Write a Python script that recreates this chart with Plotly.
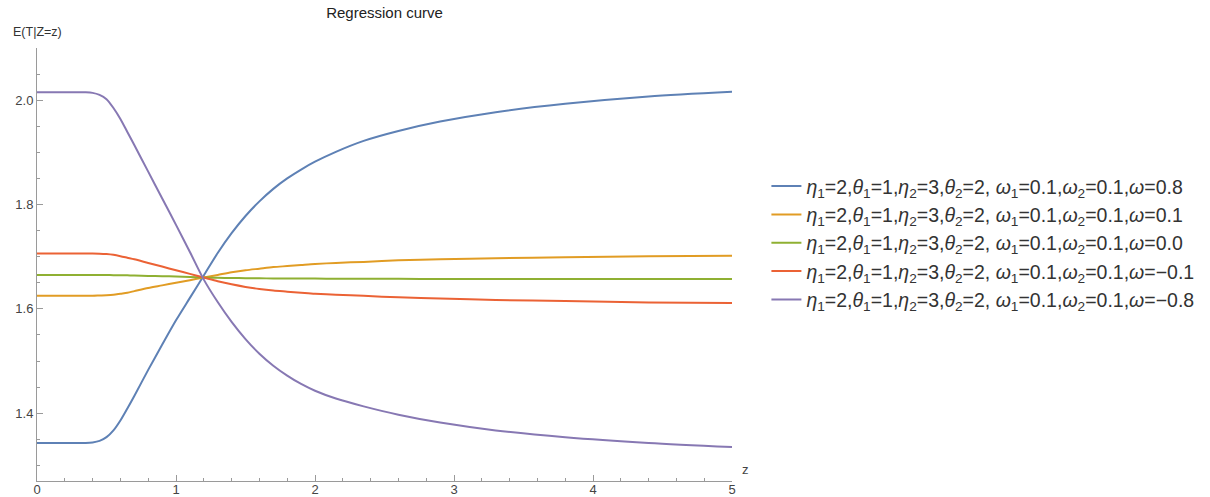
import plotly.graph_objects as go

# ---- data ----
z = [0, 0.2, 0.35, 0.4, 0.45, 0.5, 0.55, 0.6, 0.65, 0.7, 0.8, 0.9, 1.0, 1.1, 1.2,
     1.3, 1.4, 1.5, 1.6, 1.7, 1.8, 1.9, 2.0, 2.15, 2.35, 2.6, 2.9, 3.3, 3.8, 4.4, 5.0]

w_p08 = [1.343, 1.343, 1.343, 1.344, 1.347, 1.354, 1.367, 1.386, 1.409, 1.433,
         1.483, 1.531, 1.578, 1.621, 1.664, 1.707, 1.745, 1.778, 1.806, 1.830,
         1.850, 1.867, 1.882, 1.901, 1.922, 1.941, 1.959, 1.977, 1.993, 2.007, 2.016]
w_p01 = [1.625, 1.625, 1.625, 1.625, 1.6255, 1.626, 1.627, 1.629, 1.631, 1.634,
         1.640, 1.645, 1.650, 1.655, 1.660, 1.665, 1.670, 1.674, 1.677, 1.680,
         1.682, 1.684, 1.686, 1.688, 1.690, 1.693, 1.695, 1.697, 1.699, 1.701, 1.702]
w_000 = [1.665, 1.665, 1.665, 1.665, 1.6649, 1.6648, 1.6646, 1.6645, 1.6642, 1.664,
         1.663, 1.6625, 1.662, 1.661, 1.660, 1.6595, 1.659, 1.6588, 1.6585, 1.6583,
         1.6581, 1.658, 1.658, 1.6578, 1.6577, 1.6575, 1.6573, 1.6571, 1.657, 1.657, 1.657]
w_m01 = [1.706, 1.706, 1.706, 1.706, 1.7058, 1.705, 1.7035, 1.701, 1.698, 1.695,
         1.688, 1.681, 1.674, 1.667, 1.660, 1.653, 1.647, 1.642, 1.638, 1.635,
         1.633, 1.631, 1.629, 1.627, 1.625, 1.622, 1.620, 1.617, 1.615, 1.612, 1.611]
w_m08 = [2.015, 2.015, 2.015, 2.014, 2.010, 2.002, 1.985, 1.964, 1.939, 1.914,
         1.863, 1.812, 1.761, 1.709, 1.656, 1.613, 1.575, 1.542, 1.514, 1.491,
         1.472, 1.456, 1.443, 1.428, 1.413, 1.397, 1.382, 1.367, 1.354, 1.343, 1.335]

omegas = ["0.8", "0.1", "0.0", "−0.1", "−0.8"]
series = [w_p08, w_p01, w_000, w_m01, w_m08]
colors = ["#5E81B5", "#E19C24", "#8FB032", "#EB6235", "#8778B3"]

prefix = ("<i>η</i><sub>1</sub>=2,<i>θ</i><sub>1</sub>=1,<i>η</i><sub>2</sub>=3,"
          "<i>θ</i><sub>2</sub>=2, <i>ω</i><sub>1</sub>=0.1,<i>ω</i><sub>2</sub>=0.1,<i>ω</i>=")

fig = go.Figure()
for om, ys, c in zip(omegas, series, colors):
    fig.add_trace(go.Scatter(
        x=z, y=ys, mode="lines", name=prefix + om,
        line=dict(color=c, width=2, shape="spline", smoothing=0.8),
    ))

axis_col = "#9a9a9a"
font_fam = "Liberation Sans, Arial, sans-serif"

fig.update_layout(
    width=1210, height=497,
    margin=dict(l=37, r=477, t=48, b=16),
    paper_bgcolor="white", plot_bgcolor="white",
    font=dict(family=font_fam, color="#333"),
    title=dict(text="Regression curve", x=0.5, xref="paper", y=0.984, yref="container",
               yanchor="top", font=dict(size=15, color="#222")),
    showlegend=True,
    legend=dict(x=1.048, xanchor="left", y=0.55, yanchor="middle",
                font=dict(size=19.5, color="#333"), itemwidth=30,
                bgcolor="rgba(0,0,0,0)", tracegroupgap=0),
    xaxis=dict(range=[0, 5], showgrid=False, zeroline=False, automargin=False,
               showline=True, linecolor=axis_col, linewidth=1,
               ticks="inside", ticklen=6, tickcolor=axis_col, dtick=1, tick0=0,
               ticklabelstandoff=-4,
               tickfont=dict(size=13, color="#444"),
               minor=dict(dtick=0.2, ticks="inside", ticklen=3, tickcolor=axis_col)),
    yaxis=dict(range=[1.27, 2.1], showgrid=False, zeroline=False, automargin=False,
               showline=True, linecolor=axis_col, linewidth=1,
               ticks="inside", ticklen=6, tickcolor=axis_col, dtick=0.2, tick0=0,
               tickformat=".1f",
               tickfont=dict(size=13, color="#444"),
               minor=dict(dtick=0.05, ticks="inside", ticklen=3, tickcolor=axis_col)),
    annotations=[
        dict(text="z", x=1, xref="paper", y=0, yref="paper", xanchor="left",
             yanchor="bottom", xshift=8, yshift=2, showarrow=False,
             font=dict(size=13, color="#444")),
        dict(text="E(T|Z=z)", x=0, xref="paper", y=1, yref="paper", xanchor="center",
             yanchor="bottom", xshift=0, yshift=7, showarrow=False,
             font=dict(size=12.5, color="#333")),
    ],
)

fig.write_html("out.html", config={"displayModeBar": False},
               post_script="document.body.style.margin='0';document.body.style.overflow='hidden';")
